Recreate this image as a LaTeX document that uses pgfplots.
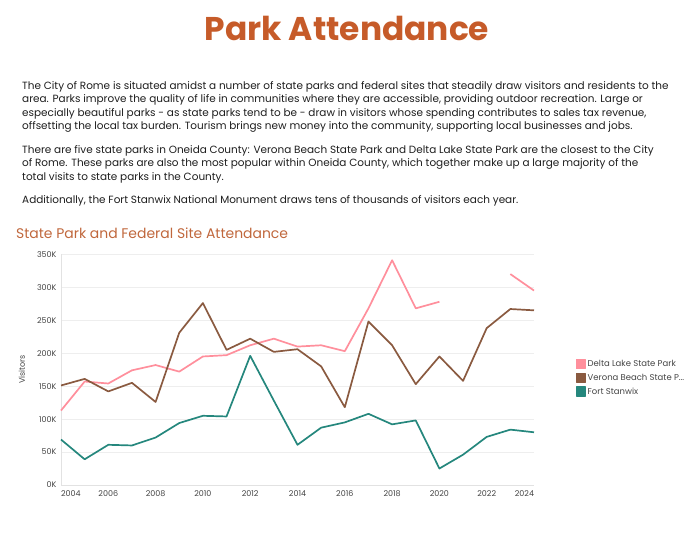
\documentclass[border=0pt]{standalone}
\usepackage{fontspec}
\setmainfont{Poppins}
\usepackage{pgfplots}
\pgfplotsset{compat=1.18}
\usepackage{pgfplotstable}
\definecolor{titlec}{HTML}{C65B29}
\definecolor{subc}{HTML}{C0673C}
\definecolor{bodyc}{HTML}{1E1E1E}
\definecolor{tickc}{HTML}{444444}
\definecolor{gridc}{HTML}{EEEEEE}
\definecolor{axc}{HTML}{E2E2E2}
\definecolor{delta}{HTML}{FF8F9C}
\definecolor{verona}{HTML}{8A5A40}
\definecolor{fort}{HTML}{25877D}
\pgfplotstableread{
year delta verona fort
2004 113 151 69
2005 157 161 39
2006 154 142 61
2007 174 155 60
2008 182 126 72
2009 172 231 94
2010 195 276 105
2011 197 205 104
2012 212 222 196
2013 222 202 128
2014 210 206 61
2015 212 180 87
2016 203 118 95
2017 268 248 108
2018 341 212 92
2019 268 153 98
2020 278 195 25
2021 nan 158 46
2022 nan 238 73
2023 320 267 84
2024 295 265 80
}\parks
\begin{document}
\begin{tikzpicture}
\path[use as bounding box] (0,0) rectangle (694bp,-558bp);
\node[anchor=base, text=titlec, font=\fontsize{33}{38}\selectfont\bfseries, inner sep=0pt] at (347bp,-40bp) {Park Attendance};
\begin{scope}[every node/.style={anchor=base west, inner sep=0pt, text=bodyc, font=\fontsize{10.5}{12}\selectfont}]
\node at (22bp,-89.3bp) {The City of Rome is situated amidst a number of state parks and federal sites that steadily draw visitors and residents to the};
\node at (22bp,-102.7bp) {area. Parks improve the quality of life in communities where they are accessible, providing outdoor recreation. Large or};
\node at (22bp,-116bp) {especially beautiful parks - as state parks tend to be - draw in visitors whose spending contributes to sales tax revenue,};
\node at (22bp,-129.4bp) {offsetting the local tax burden. Tourism brings new money into the community, supporting local businesses and jobs.};
\node at (22bp,-153.3bp) {There are five state parks in Oneida County: Verona Beach State Park and Delta Lake State Park are the closest to the City};
\node at (22bp,-166.7bp) {of Rome. These parks are also the most popular within Oneida County, which together make up a large majority of the};
\node at (22bp,-180bp) {total visits to state parks in the County.};
\node at (22bp,-203.7bp) {Additionally, the Fort Stanwix National Monument draws tens of thousands of visitors each year.};
\end{scope}
\node[anchor=base west, inner sep=0pt, text=subc, font=\fontsize{14}{16}\selectfont] at (16bp,-238bp) {State Park and Federal Site Attendance};
\begin{axis}[
  at={(61bp,-485bp)}, anchor=south west,
  scale only axis, width=473bp, height=230.7bp,
  xmin=2004, xmax=2024, ymin=0, ymax=350,
  axis x line*=bottom, axis y line*=left,
  axis line style={draw=axc, line width=0.8bp},
  ymajorgrids, grid style={draw=gridc, line width=0.7bp},
  major tick length=0pt,
  xtick={2004,2006,...,2024},
  xticklabels={\rlap{2004},2006,2008,2010,2012,2014,2016,2018,2020,2022,\llap{2024}},
  ytick={0,50,...,350},
  yticklabels={0K,50K,100K,150K,200K,250K,300K,350K},
  /pgf/number format/assume math mode=true,
  tick label style={font=\fontsize{8}{9}\selectfont, text=tickc},
  xticklabel style={yshift=-2bp},
  yticklabel style={xshift=-1bp},
  ylabel={Visitors},
  ylabel style={at={(axis description cs:-0.0825,0.5)}, anchor=center, font=\fontsize{8}{9}\selectfont, text=tickc},
  unbounded coords=jump,
  clip=false,
  legend cell align=left,
  legend style={at={(axis description cs:1.081,0.464)}, anchor=west, draw=none, fill=none,
    font=\fontsize{8.5}{10}\selectfont, text=tickc, row sep=3bp,
    nodes={inner sep=1.5bp}},
  legend image code/.code={\fill[#1] (0bp,-4.5bp) rectangle (9bp,4.5bp);},
  every axis plot/.append style={line width=1.7bp, line join=round},
]
\addplot[color=delta] table[x=year,y=delta] {\parks};
\addlegendentry{Delta Lake State Park}
\addplot[color=verona] table[x=year,y=verona] {\parks};
\addlegendentry{Verona Beach State P...}
\addplot[color=fort] table[x=year,y=fort] {\parks};
\addlegendentry{Fort Stanwix}
\end{axis}
\end{tikzpicture}
\end{document}
